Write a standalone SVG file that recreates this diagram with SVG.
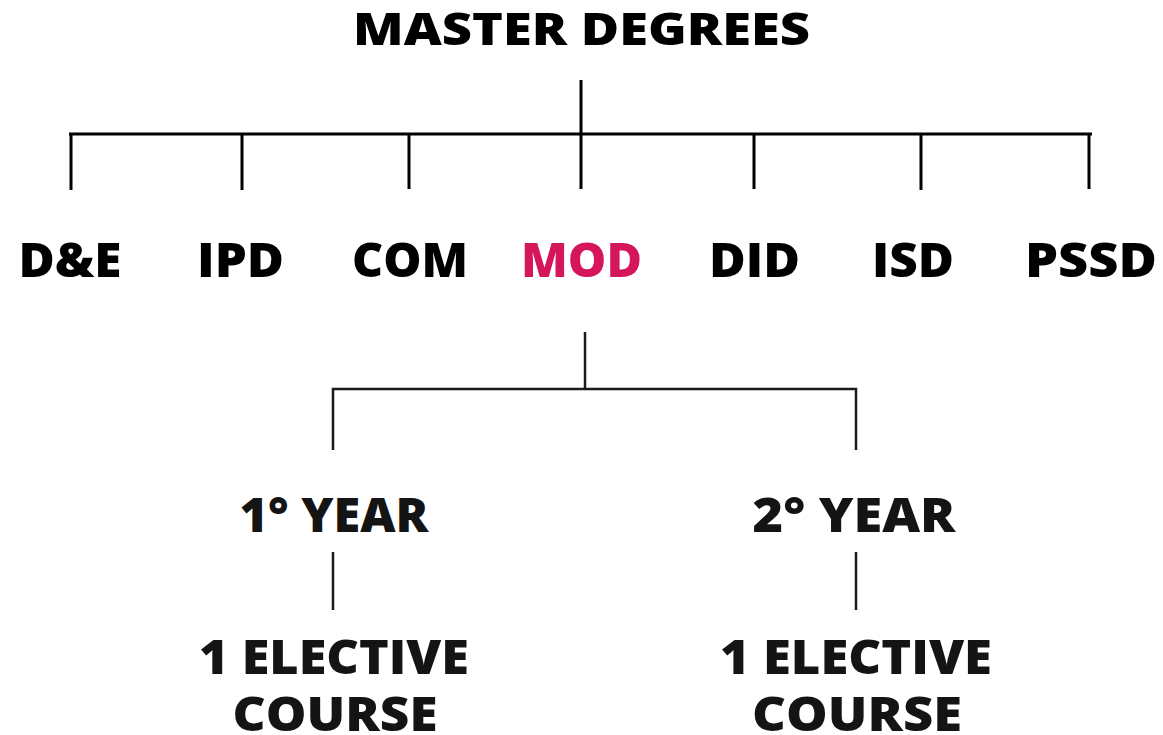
<svg xmlns="http://www.w3.org/2000/svg" width="1163" height="735" viewBox="0 0 1163 735">
<style>
  .t { font-family: "Open Sans", "Liberation Sans", sans-serif; font-weight: 800; fill: #000; text-anchor: middle; }
  .title { font-size: 45px; }
  .lab { font-size: 48px; }
  .low { font-size: 47px; fill: #141414; }
  .mod { fill: #D6165A; }
  .c1 { stroke: #000; stroke-width: 3; fill: none; }
  .c2 { stroke: #1a1a1a; stroke-width: 2.5; fill: none; }
</style>
<rect width="1163" height="735" fill="#fff"/>
<g id="connectors">
  <line class="c1" x1="581" y1="80" x2="581" y2="134"/>
  <line class="c1" x1="69" y1="134" x2="1092" y2="134" stroke-width="4.5"/>
  <line class="c1" x1="71" y1="134" x2="71" y2="190"/>
  <line class="c1" x1="242" y1="134" x2="242" y2="190"/>
  <line class="c1" x1="409" y1="134" x2="409" y2="189"/>
  <line class="c1" x1="581" y1="134" x2="581" y2="189"/>
  <line class="c1" x1="754" y1="134" x2="754" y2="189"/>
  <line class="c1" x1="921" y1="134" x2="921" y2="190"/>
  <line class="c1" x1="1089" y1="134" x2="1089" y2="189"/>
  <line class="c2" x1="585" y1="332" x2="585" y2="389"/>
  <polyline class="c2" points="333,450 333,389 856,389 856,450"/>
  <line class="c2" x1="333" y1="552" x2="333" y2="610"/>
  <line class="c2" x1="856" y1="552" x2="856" y2="610"/>
</g>
<g id="master-degrees"><text class="t title" x="581.5" y="45" textLength="457" lengthAdjust="spacingAndGlyphs">MASTER DEGREES</text></g>
<g id="de"><text class="t lab" x="70" y="277" textLength="103" lengthAdjust="spacingAndGlyphs">D&amp;E</text></g>
<g id="ipd"><text class="t lab" x="240.5" y="277" textLength="87" lengthAdjust="spacingAndGlyphs">IPD</text></g>
<g id="com"><text class="t lab" x="410" y="277" textLength="116" lengthAdjust="spacingAndGlyphs">COM</text></g>
<g id="mod"><text class="t lab mod" x="581.5" y="277" textLength="121" lengthAdjust="spacingAndGlyphs">MOD</text></g>
<g id="did"><text class="t lab" x="754.5" y="277" textLength="91" lengthAdjust="spacingAndGlyphs">DID</text></g>
<g id="isd"><text class="t lab" x="913" y="277" textLength="82" lengthAdjust="spacingAndGlyphs">ISD</text></g>
<g id="pssd"><text class="t lab" x="1091" y="277" textLength="132" lengthAdjust="spacingAndGlyphs">PSSD</text></g>
<g id="year1"><text class="t low" x="334" y="532" textLength="189" lengthAdjust="spacingAndGlyphs">1° YEAR</text></g>
<g id="year2"><text class="t low" x="854" y="532" textLength="203" lengthAdjust="spacingAndGlyphs">2° YEAR</text></g>
<g id="elective1">
  <text class="t low" x="334" y="674" textLength="270" lengthAdjust="spacingAndGlyphs">1 ELECTIVE</text>
  <text class="t low" x="335" y="731" textLength="205" lengthAdjust="spacingAndGlyphs">COURSE</text>
</g>
<g id="elective2">
  <text class="t low" x="856" y="674" textLength="272" lengthAdjust="spacingAndGlyphs">1 ELECTIVE</text>
  <text class="t low" x="857" y="731" textLength="210" lengthAdjust="spacingAndGlyphs">COURSE</text>
</g>
</svg>
